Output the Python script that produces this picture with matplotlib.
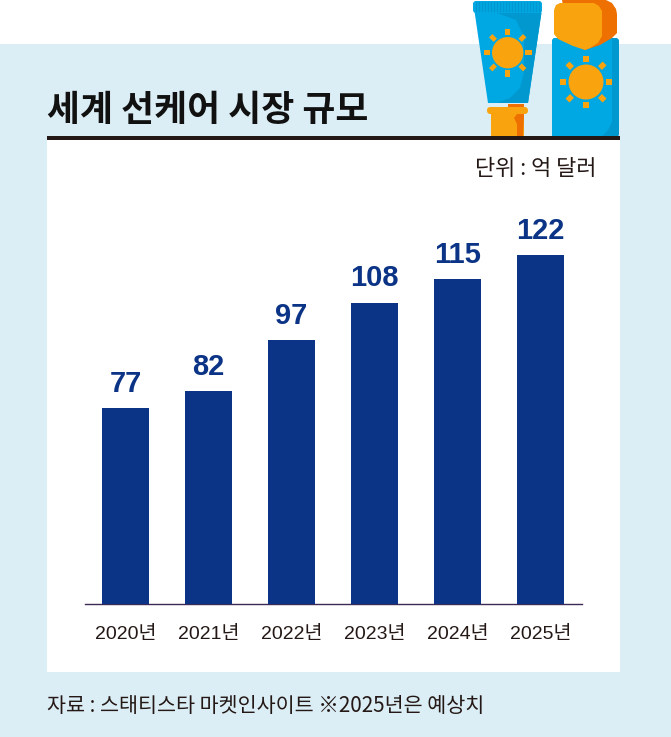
import numpy as np
import matplotlib
matplotlib.use('Agg')
import matplotlib.pyplot as plt
from matplotlib.patches import Rectangle, Polygon, Circle, FancyBboxPatch
from matplotlib.transforms import Affine2D

W, H = 671, 737

years = ['2020년', '2021년', '2022년', '2023년', '2024년', '2025년']
values = [77, 82, 97, 108, 115, 122]

BG = '#DCEEF5'
NAVY = '#0B3386'
BLUE = '#00A8E3'
BLUE_D = '#0098CE'
ORANGE = '#F9A30E'
ORANGE_D = '#EE7000'
TEXT = '#231815'

latin = ['Liberation Sans', 'Noto Sans CJK KR', 'DejaVu Sans']
kr = ['Noto Sans CJK KR', 'DejaVu Sans']

fig = plt.figure(figsize=(W / 100, H / 100), dpi=100, facecolor='white')

# 배경과 장식은 픽셀 좌표로 그림
bg = fig.add_axes([0, 0, 1, 1])
bg.set_xlim(0, W)
bg.set_ylim(H, 0)
bg.axis('off')

bg.add_patch(Rectangle((0, 44), W, H - 44, fc=BG, ec='none'))
bg.add_patch(Rectangle((47, 138), 573, 534, fc='white', ec='none'))


def sun(cx, cy, r, ray_r, ray_w, ray_l):
    bg.add_patch(Circle((cx, cy), r, fc=ORANGE, ec='none', zorder=5))
    for a in range(0, 360, 45):
        t = Rectangle((-ray_l / 2, -ray_w / 2), ray_l, ray_w, fc=ORANGE, ec='none', zorder=5)
        t.set_transform(Affine2D().rotate_deg(a).translate(
            cx + ray_r * np.cos(np.radians(a)), cy + ray_r * np.sin(np.radians(a))) + bg.transData)
        bg.add_patch(t)


def rounded(x, y, w, h, r, color, z):
    bg.add_patch(FancyBboxPatch((x + r, y + r), w - 2 * r, h - 2 * r,
                                boxstyle=f'round,pad={r},rounding_size={r}',
                                fc=color, ec='none', zorder=z))


def poly(pts, color, z):
    bg.add_patch(Polygon(pts, fc=color, ec='none', zorder=z))


# 튜브
poly([(491, 114), (524, 114), (524, 136), (491, 136)], ORANGE, 3)
poly([(517, 114), (524, 114), (523, 136), (517, 136), (517, 124), (514, 118)], ORANGE_D, 3)
rounded(487, 107, 41, 7, 3.5, ORANGE, 4)
poly([(508, 104), (524, 104), (524, 107), (508, 107)], ORANGE_D, 2)
poly([(474, 8), (542, 8), (528, 103), (488, 103)], BLUE, 3)
rounded(473, 1, 69, 12, 3, BLUE, 3)
for sx in np.arange(476, 541, 3.0):
    bg.plot([sx, sx], [2, 11], color=BLUE_D, lw=1, zorder=4)
poly([(497, 13), (541.5, 13), (528, 103), (497, 103), (510, 98), (520, 88), (524, 73),
      (524, 37), (516, 20)], BLUE_D, 3)
sun(507.7, 52.7, 15.7, 20.8, 4.7, 6.5)

# 병
rounded(552, 38, 67, 99, 3, BLUE_D, 3)
poly([(552, 136), (552, 41), (554, 38), (612, 38), (612, 122), (608, 130), (602, 136)], BLUE, 3)
poly([(562, 0), (606, 0), (612, 3), (616, 9), (617, 14), (617, 33), (612, 38), (600, 45), (585, 50), (570, 40)],
     ORANGE_D, 4)
poly([(560, 3), (594, 3), (599, 6), (602, 11), (602, 36), (598, 43), (590, 48), (585, 50),
      (573, 46), (558, 39), (554, 34), (554, 10), (556, 5)], ORANGE, 5)
sun(586, 82, 17.5, 23, 5.5, 6.5)

# 제목 줄
bg.add_patch(Rectangle((47, 136), 573, 4, fc=TEXT, ec='none', zorder=6))
bg.text(47, 110, '세계 선케어 시장 규모', family=kr, fontsize=25.8, fontweight=900,
        color='#111111', ha='left', va='center')
bg.text(596, 168.5, '단위 : 억 달러', family=kr, fontsize=15.8, color=TEXT, ha='right', va='center')
bg.text(47, 705.5, '자료 : 스태티스타 마켓인사이트 ※2025년은 예상치', family=kr, fontsize=14.9,
        color=TEXT, ha='left', va='center')

# 막대 차트
left, right, base, top = 85, 582, 604, 200
ax = fig.add_axes([left / W, 1 - base / H, (right - left) / W, (base - top) / H])
ax.patch.set_alpha(0)
x = np.arange(len(years))
ax.bar(x, values, width=0.57, color=NAVY, zorder=3)
# 원본의 막대 높이는 0이 아닌 약 19.4를 기준선으로 그려져 있음
ax.set_ylim(19.4, 19.4 + (base - top) / 3.4)
ax.set_xlim(-0.49, 5.5)
ax.set_yticks([])
ax.set_xticks(x)
ax.set_xticklabels(years, family=latin, fontsize=14, color=TEXT)
ax.tick_params(axis='x', length=0, pad=16)
for s in ['top', 'left', 'right']:
    ax.spines[s].set_visible(False)
ax.spines['bottom'].set_color('#3A2A55')
ax.spines['bottom'].set_linewidth(1)

for xi, v in zip(x, values):
    ax.text(xi, v + 4.8, str(v), ha='center', va='baseline', family=latin,
            fontsize=21, fontweight='bold', color=NAVY)

fig.savefig('out.png', dpi=100, facecolor=fig.get_facecolor())
